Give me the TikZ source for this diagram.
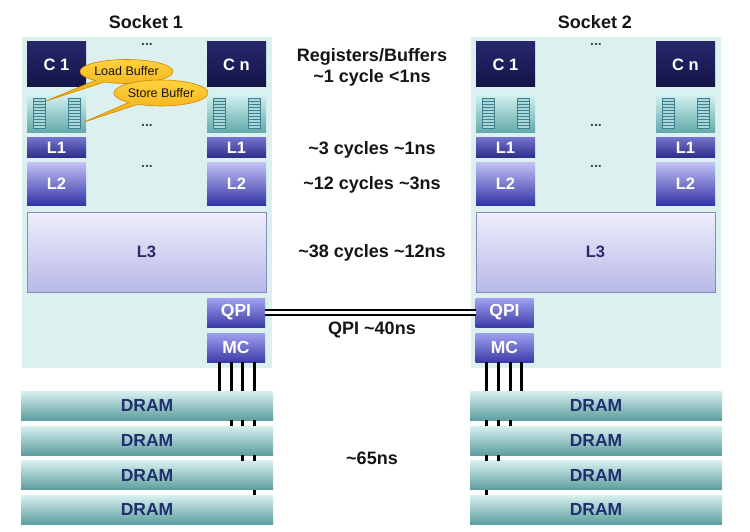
\documentclass[tikz,border=0pt]{standalone}
\usepackage{fontspec}
\setmainfont{Liberation Sans}
\usetikzlibrary{shapes.callouts,calc}
\definecolor{sockbg}{HTML}{DDF0F0}
\definecolor{cTop}{HTML}{27276C}
\definecolor{cBot}{HTML}{141448}
\definecolor{bufTop}{HTML}{D4F2F2}
\definecolor{bufBot}{HTML}{62A8A8}
\definecolor{iconFill}{HTML}{A8D8D8}
\definecolor{iconLine}{HTML}{3F7F90}
\definecolor{lOneTop}{HTML}{7272CC}
\definecolor{lOneBot}{HTML}{2C2C88}
\definecolor{lTwoTop}{HTML}{C0C0F4}
\definecolor{lTwoBot}{HTML}{3434A8}
\definecolor{lThrTop}{HTML}{EEEEFC}
\definecolor{lThrBot}{HTML}{B8B8E8}
\definecolor{lThrLine}{HTML}{8A8AB8}
\definecolor{lThrText}{HTML}{2A2A70}
\definecolor{qTop}{HTML}{A0A0F0}
\definecolor{qBot}{HTML}{3C3CA8}
\definecolor{dTop}{HTML}{D8F0F0}
\definecolor{dMid}{HTML}{A0D4D4}
\definecolor{dBot}{HTML}{5E9E9E}
\definecolor{dText}{HTML}{1F2F6F}
\definecolor{calTop}{HTML}{FFD23C}
\definecolor{calBot}{HTML}{F0A810}
\definecolor{calLine}{HTML}{D08800}
\definecolor{txt}{HTML}{151515}
\begin{document}
\begin{tikzpicture}[x=1pt,y=-1pt,
  box/.style={rectangle, inner sep=0pt, outer sep=0pt, text=white,
    font=\fontsize{16.5}{18}\selectfont\bfseries},
  sockbox/.style={rectangle, inner sep=0pt, outer sep=0pt, fill=sockbg,
    minimum width=250, minimum height=331},
  cbox/.style={box, minimum width=59, minimum height=45, top color=cTop, bottom color=cBot},
  bufbox/.style={box, minimum width=59, minimum height=39, top color=bufTop, bottom color=bufBot},
  icon/.style={rectangle, inner sep=0pt, outer sep=0pt, minimum width=12, minimum height=30,
    fill=iconFill, draw=iconLine, line width=0.6pt,
    path picture={\foreach \i in {1,...,9}{
      \draw[iconLine, line width=0.5pt]
        ([yshift=-\i*3pt]path picture bounding box.north west) --
        ([yshift=-\i*3pt]path picture bounding box.north east);}}},
  lonebox/.style={box, minimum width=59, minimum height=20, top color=lOneTop, bottom color=lOneBot},
  ltwobox/.style={box, minimum width=59, minimum height=42, top color=lTwoTop, bottom color=lTwoBot},
  lthrbox/.style={box, minimum width=239, minimum height=80, top color=lThrTop, bottom color=lThrBot,
    draw=lThrLine, line width=0.6pt, text=lThrText},
  qbox/.style={box, minimum width=58, minimum height=29, top color=qTop, bottom color=qBot,
    font=\fontsize{17.5}{18}\selectfont\bfseries},
  drambox/.style={box, minimum width=252, minimum height=29, top color=dTop, middle color=dMid,
    bottom color=dBot, text=dText, font=\fontsize{17.5}{18}\selectfont\bfseries},
  dots/.style={inner sep=0pt, text=txt!80, font=\fontsize{14}{14}\selectfont\bfseries},
  label/.style={inner sep=0pt, text=txt, font=\fontsize{18}{20}\selectfont\bfseries},
  socklabel/.style={inner sep=0pt, text=txt, font=\fontsize{18}{20}\selectfont\bfseries},
  bubble/.style={ellipse callout, inner sep=0pt, minimum width=93, minimum height=24,
    top color=calTop, bottom color=calBot, draw=calLine, line width=0.6pt,
    callout pointer arc=14, text=txt, font=\fontsize{12.5}{14}\selectfont},
  bus/.style={line width=3pt, black},
  qpilink/.style={double=white, line width=2.6pt, double distance=2.4pt, black}
]
\useasboundingbox (0,0) rectangle (750,532);
\fill[white] (0,0) rectangle (750,532);

\foreach \s/\dx in {1/0,2/449}{
\begin{scope}[xshift=\dx pt]
  \node[sockbox] (s\s bg) at (147,202.5) {};
  \node[socklabel] (s\s lab) at (146,22) {Socket \s};
  \node[cbox] (s\s c1) at (56.5,64.5) {C 1};
  \node[cbox] (s\s cn) at (236.5,64.5) {C n};
  \node[bufbox] (s\s b1) at (56.5,113.5) {};
  \node[bufbox] (s\s bn) at (236.5,113.5) {};
  \node[icon] (s\s b1l) at (39,113) {};
  \node[icon] (s\s b1r) at (74,113) {};
  \node[icon] (s\s bnl) at (219,113) {};
  \node[icon] (s\s bnr) at (254,113) {};
  \node[lonebox] (s\s l1a) at (56.5,148) {L1};
  \node[lonebox] (s\s l1n) at (236.5,148) {L1};
  \node[ltwobox] (s\s l2a) at (56.5,184) {L2};
  \node[ltwobox] (s\s l2n) at (236.5,184) {L2};
  \node[lthrbox] (s\s l3) at (146.5,252) {L3};
  \node[dots] (s\s dta) at (147,44) {...};
  \node[dots] (s\s dtb) at (147,125) {...};
  \node[dots] (s\s dtc) at (147,166) {...};
  \node[drambox] (s\s d1) at (147,405.5) {DRAM};
  \node[drambox] (s\s d2) at (147,440.5) {DRAM};
  \node[drambox] (s\s d3) at (147,475) {DRAM};
  \node[drambox] (s\s d4) at (147,509.5) {DRAM};
\end{scope}
}

% QPI and memory controllers
\node[qbox] (s1qpi) at (236,312.5) {QPI};
\node[qbox] (s1mc) at (236,347.5) {MC};
\node[qbox] (s2qpi) at (504.5,312.5) {QPI};
\node[qbox] (s2mc) at (504.5,347.5) {MC};
\draw[qpilink] (s1qpi.east) -- (s2qpi.west);

% memory buses, socket 1
\foreach \o/\n in {12/1,24/2,35/3,47/4}{
  \coordinate (p\n) at ($(s1mc.south west)+(\o,0)$);
  \draw[bus] (p\n) -- (p\n |- s1d1.north);
}
\foreach \n in {2,3,4}{\draw[bus] (p\n |- s1d1.south) -- (p\n |- s1d2.north);}
\foreach \n in {3,4}{\draw[bus] (p\n |- s1d2.south) -- (p\n |- s1d3.north);}
\draw[bus] (p4 |- s1d3.south) -- (p4 |- s1d4.north);

% memory buses, socket 2
\foreach \o/\n in {11/1,23/2,35/3,46/4}{
  \coordinate (q\n) at ($(s2mc.south west)+(\o,0)$);
  \draw[bus] (q\n) -- (q\n |- s2d1.north);
}
\foreach \n in {1,2,3}{\draw[bus] (q\n |- s2d1.south) -- (q\n |- s2d2.north);}
\foreach \n in {1,2}{\draw[bus] (q\n |- s2d2.south) -- (q\n |- s2d3.north);}
\draw[bus] (q1 |- s2d3.south) -- (q1 |- s2d4.north);

% callouts
\node[bubble, callout absolute pointer={(46,101)}] (lb) at (126.5,71.5) {Load Buffer};
\node[bubble, minimum height=26, callout absolute pointer={(84,122)}] (sb) at (161,93) {Store Buffer};

% latency labels
\node[label] (t1) at (372,57) {Registers/Buffers};
\node[label] (t2) at (372,78) {\textasciitilde1 cycle <1ns};
\node[label] (t3) at (372,150) {\textasciitilde3 cycles \textasciitilde1ns};
\node[label] (t4) at (372,185) {\textasciitilde12 cycles \textasciitilde3ns};
\node[label] (t5) at (372,253) {\textasciitilde38 cycles \textasciitilde12ns};
\node[label] (t6) at (372,330) {QPI \textasciitilde40ns};
\node[label] (t7) at (372,458) {\textasciitilde65ns};
\end{tikzpicture}
\end{document}
